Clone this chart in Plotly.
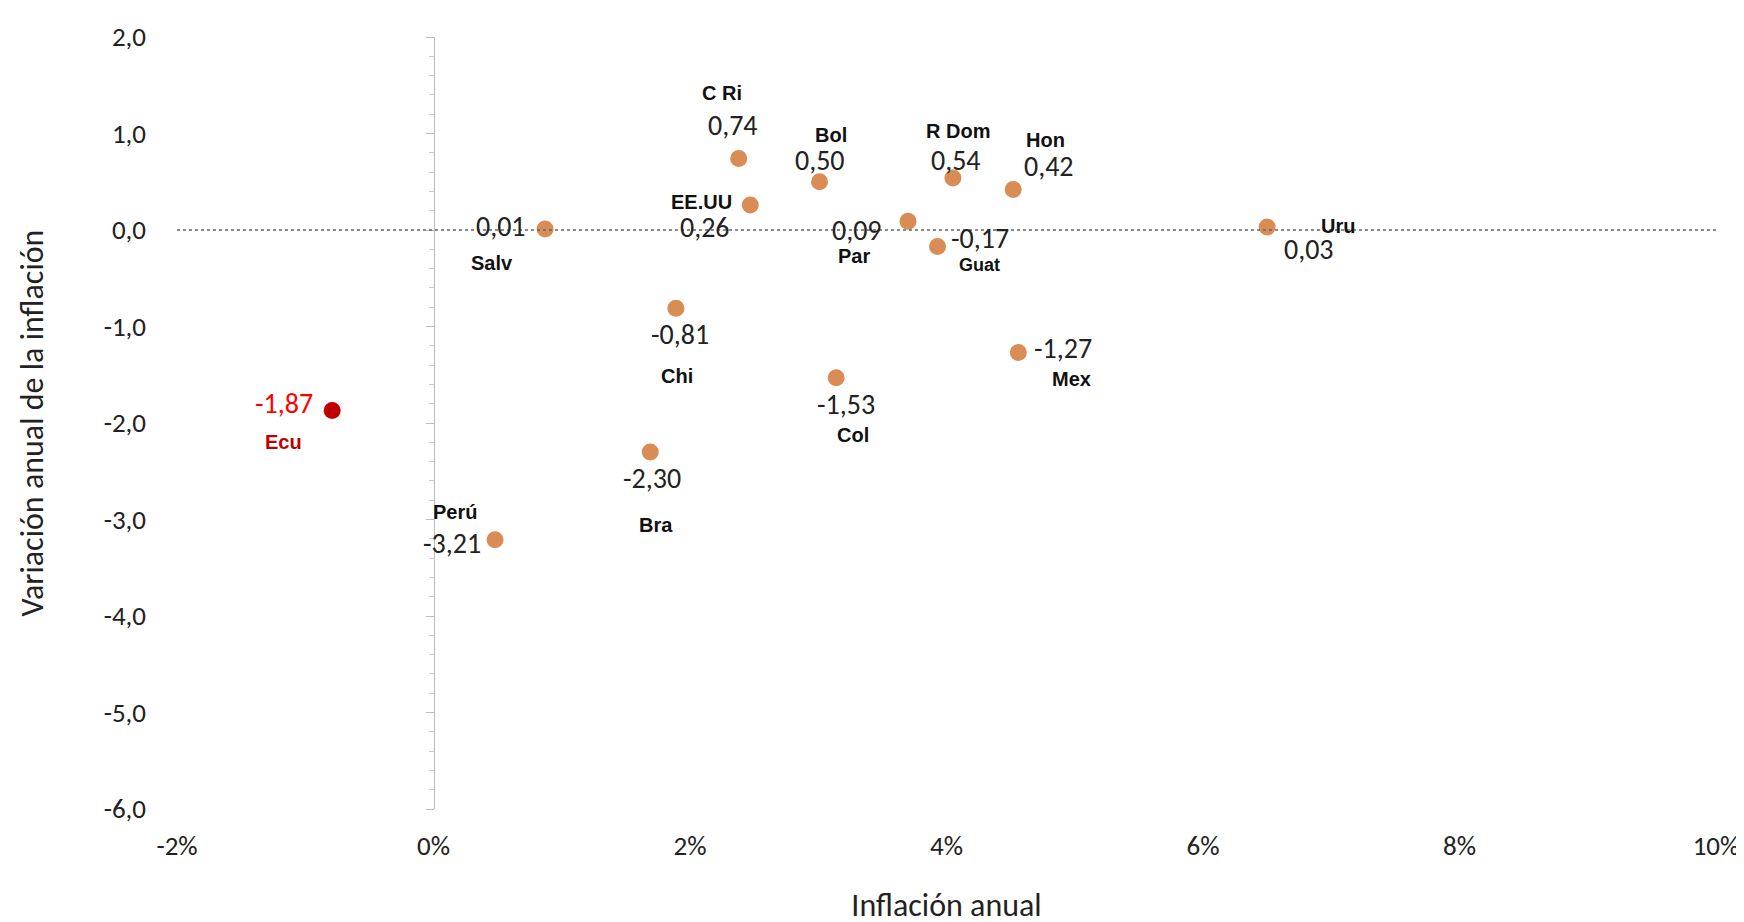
import plotly.graph_objects as go

names = ["Ecu","Perú","Salv","Bra","Chi","C Ri","EE.UU","Bol","Col","Par","Guat","R Dom","Hon","Mex","Uru"]
inflation = [-0.0079,0.0048,0.0087,0.0169,0.0189,0.0238,0.0247,0.0301,0.0314,0.0370,0.0393,0.0405,0.0452,0.0456,0.0650]
variation = [-1.87,-3.21,0.01,-2.30,-0.81,0.74,0.26,0.50,-1.53,0.09,-0.17,0.54,0.42,-1.27,0.03]
value_text = ["-1,87","-3,21","0,01","-2,30","-0,81","0,74","0,26","0,50","-1,53","0,09","-0,17","0,54","0,42","-1,27","0,03"]
y_ticks = [2,1,0,-1,-2,-3,-4,-5,-6]
y_tick_text = ["2,0","1,0","0,0","-1,0","-2,0","-3,0","-4,0","-5,0","-6,0"]
x_ticks = [-0.02,0,0.02,0.04,0.06,0.08,0.10]
x_tick_text = ["-2%","0%","2%","4%","6%","8%","10%"]

S = 1.11
val_off = {"Ecu":(-43,-6),"Perú":(-39,3),"Salv":(-40,-2),"Bra":(2,24),"Chi":(4,24),"C Ri":(-5,-30),
           "EE.UU":(-41,20),"Bol":(0,-19),"Col":(9,24),"Par":(-46,8),"Guat":(38,-7),"R Dom":(3,-16),
           "Hon":(32,-21),"Mex":(40,-4),"Uru":(38,20)}
name_off = {"Ecu":(-44,28),"Perú":(-36,-25),"Salv":(-48,31),"Bra":(5,66),"Chi":(1,61),"C Ri":(-15,-59),
            "EE.UU":(-44,-3),"Bol":(10,-42),"Col":(15,52),"Par":(-49,31),"Guat":(38,17),"R Dom":(5,-42),
            "Hon":(29,-45),"Mex":(48,24),"Uru":(64,-1)}

ORANGE = "#D98C54"
RED = "#C00000"
colors = [RED if n == "Ecu" else ORANGE for n in names]
FONT = "Calibri, Carlito, Liberation Sans, Arial"

fig = go.Figure()
fig.add_trace(go.Scatter(x=inflation, y=variation, mode="markers",
                         marker=dict(size=17, color=colors), showlegend=False, hoverinfo="skip"))
fig.add_trace(go.Scatter(x=[0, 0], y=[-6, 2], mode="lines", line=dict(width=0), yaxis="y2",
                         showlegend=False, hoverinfo="skip"))

for n, xv, yv, t in zip(names, inflation, variation, value_text):
    vc = "#FF0000" if n == "Ecu" else "#222222"
    nc = RED if n == "Ecu" else "#111111"
    dx, dy = val_off[n]
    fig.add_annotation(x=xv, y=yv, text=t, showarrow=False, xshift=dx*S, yshift=-dy*S,
                       font=dict(family=FONT, size=28, color=vc))
    dx, dy = name_off[n]
    fig.add_annotation(x=xv, y=yv, text="<b>"+n+"</b>", showarrow=False, xshift=dx*S, yshift=-dy*S,
                       font=dict(family="Liberation Sans, Arial", size=20 if n != "Guat" else 18, color=nc))

fig.add_shape(type="line", xref="x", yref="y", x0=-0.02, x1=0.1, y0=0, y1=0,
              line=dict(color="#666666", width=1.5, dash="dot"))

fig.update_layout(
    width=1744, height=922, plot_bgcolor="white", paper_bgcolor="white",
    margin=dict(l=169, r=36, t=24, b=121),
    font=dict(family=FONT, size=27, color="#222222"),
    xaxis=dict(range=[-0.02, 0.1], tickvals=x_ticks, ticktext=x_tick_text, showgrid=False, zeroline=False,
               showline=False, ticks="", ticklabelstandoff=18, title=dict(text="Inflación anual", standoff=32)),
    yaxis=dict(range=[-6, 2], tickvals=y_ticks, ticktext=y_tick_text, showgrid=False, zeroline=False,
               showline=False, ticks="", ticklabelstandoff=30,
               title=dict(text="Variación anual de la inflación", standoff=50)),
    yaxis2=dict(range=[-6, 2], overlaying="y", anchor="free", position=2/12, side="left",
                showticklabels=False, showgrid=False, zeroline=False, showline=True,
                linecolor="#BBBBBB", linewidth=1, ticks="outside", ticklen=8, tickcolor="#BBBBBB",
                dtick=1, minor=dict(dtick=0.2, ticks="outside", ticklen=5, tickcolor="#CCCCCC")),
)
fig.write_html("out.html")
